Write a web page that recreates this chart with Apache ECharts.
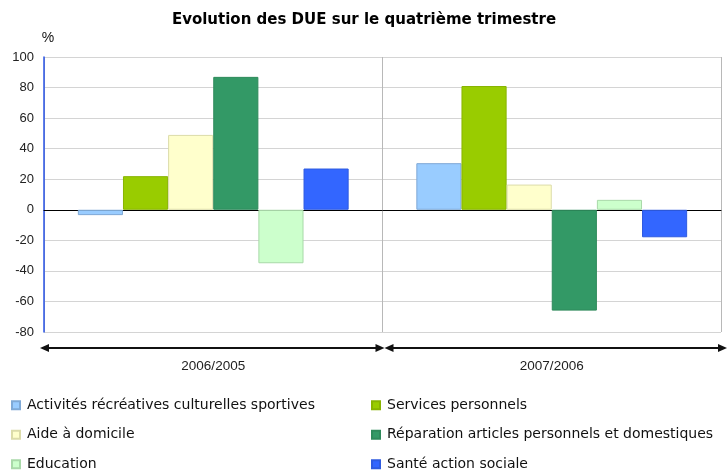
<!DOCTYPE html>
<html>
<head>
<meta charset="utf-8">
<script src="https://cdn.jsdelivr.net/npm/echarts@6/dist/echarts.min.js"></script>
<style>
  html, body { margin: 0; padding: 0; background: #fff; }
  #chart { width: 728px; height: 470px; }
</style>
</head>
<body>
<div id="chart"></div>
<script>
// données
var periodes = ['2006/2005', '2007/2006'];
var secteurs = [
  'Activités récréatives culturelles sportives',
  'Services personnels',
  'Aide à domicile',
  'Réparation articles personnels et domestiques',
  'Education',
  'Santé action sociale'
];
var activites = [-3.5, 30.5];
var services = [22, 81];
var aide = [49, 16.5];
var reparation = [87, -66];
var education = [-35, 6.5];
var sante = [27, -18];
var yTicks = [-80, -60, -40, -20, 0, 20, 40, 60, 80, 100];

var valeurs = [activites, services, aide, reparation, education, sante];
var couleurs = ['#99ccff', '#99cc00', '#ffffcc', '#339966', '#ccffcc', '#3366ff'];
var bordures = ['#7fa9d6', '#88b400', '#dcdcaa', '#2e8a5b', '#a9d9a9', '#2f5be0'];

var font = '"Liberation Sans", Arial, sans-serif';
var fontLarge = '"DejaVu Sans", sans-serif';
var gridLeft = 44, gridRight = 7, gridTop = 57, gridBottom = 138;

var series = secteurs.map(function (nom, i) {
  return {
    name: nom,
    type: 'bar',
    data: valeurs[i],
    barGap: '0%',
    barCategoryGap: '20%',
    itemStyle: { color: couleurs[i], borderColor: bordures[i], borderWidth: 1 }
  };
});

var legendeBase = {
  orient: 'vertical',
  top: 392,
  height: 90,
  itemWidth: 8,
  itemHeight: 8,
  itemGap: 13,
  icon: 'rect',
  textStyle: { fontFamily: fontLarge, fontSize: 14, color: '#111', lineHeight: 16.5, padding: [0, 0, 0, 2] }
};

var chart = echarts.init(document.getElementById('chart'));

var option = {
  animation: false,
  textStyle: { fontFamily: font },
  title: {
    text: 'Evolution des DUE sur le quatrième trimestre',
    left: 'center',
    top: 8,
    textStyle: { fontFamily: fontLarge, fontSize: 15, fontWeight: 'bold', color: '#000' }
  },
  grid: { left: gridLeft, right: gridRight, top: gridTop, bottom: gridBottom },
  legend: [
    Object.assign({}, legendeBase, { left: 6, data: [secteurs[0], secteurs[2], secteurs[4]] }),
    Object.assign({}, legendeBase, { left: 366, data: [secteurs[1], secteurs[3], secteurs[5]] })
  ],
  xAxis: [
    {
      type: 'category',
      data: periodes,
      axisLine: { onZero: true, lineStyle: { color: '#000', width: 1 } },
      axisTick: { show: false },
      axisLabel: { show: false },
      splitLine: { show: true, lineStyle: { color: '#b8b8b8', width: 1 } }
    },
    {
      type: 'category',
      data: periodes,
      position: 'bottom',
      axisLine: { show: false, onZero: false },
      axisTick: { show: false },
      axisLabel: { margin: 27, fontSize: 13.5, color: '#222', fontFamily: font }
    }
  ],
  yAxis: {
    type: 'value',
    min: yTicks[0],
    max: yTicks[yTicks.length - 1],
    interval: 20,
    name: '%',
    nameLocation: 'end',
    nameGap: 12,
    nameTextStyle: { fontSize: 14, color: '#111', fontFamily: font, padding: [0, 0, 0, 8] },
    axisLine: { show: true, lineStyle: { color: '#2a55e8', width: 1.5 } },
    axisTick: { show: false },
    axisLabel: { margin: 10, fontSize: 13, color: '#222', fontFamily: font },
    splitLine: { lineStyle: { color: '#d4d4d4', width: 1.2 } }
  },
  series: series
};

chart.setOption(option);

// flèches doubles sous chaque période, placées à partir de la grille
function fleche(x1, x2, y) {
  var h = 4, l = 9;
  return [
    { type: 'line', shape: { x1: x1 + 4, y1: y, x2: x2 - 4, y2: y }, style: { stroke: '#111', lineWidth: 2.2 } },
    { type: 'polygon', shape: { points: [[x1, y], [x1 + l, y - h], [x1 + l, y + h]] }, style: { fill: '#111' } },
    { type: 'polygon', shape: { points: [[x2, y], [x2 - l, y - h], [x2 - l, y + h]] }, style: { fill: '#111' } }
  ];
}
var W = chart.getWidth(), H = chart.getHeight();
var gx1 = gridLeft, gx2 = W - gridRight;
var milieu = (gx1 + gx2) / 2;
var yFleche = H - gridBottom + 16;
chart.setOption({
  graphic: fleche(gx1 - 4, milieu + 2, yFleche).concat(fleche(milieu + 2, gx2 + 6, yFleche))
});
</script>
</body>
</html>
